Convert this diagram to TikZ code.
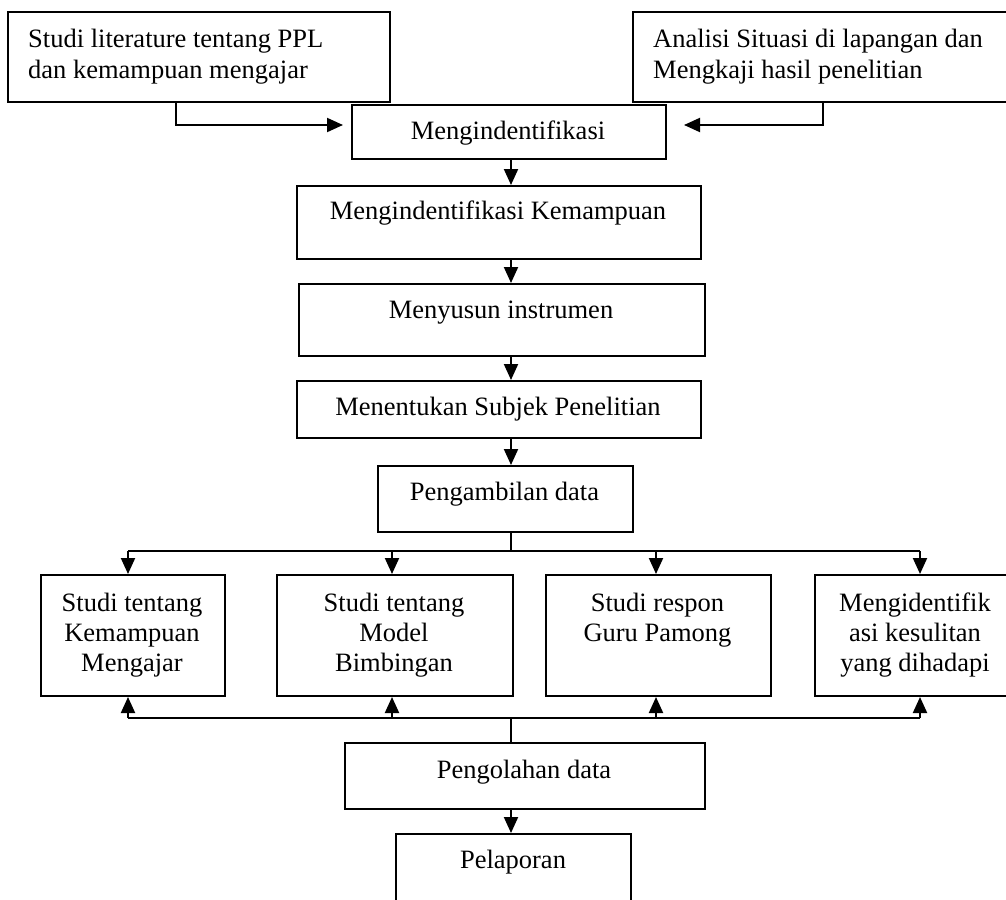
\documentclass[tikz,border=0pt]{standalone}
\usepackage{fontspec}
\setmainfont{Liberation Serif}
\usetikzlibrary{arrows.meta}
\begin{document}
\begin{tikzpicture}[x=1pt,y=-1pt,
  box/.style={draw, line width=2pt, rectangle, inner sep=0pt, anchor=north west},
  txt/.style={inner sep=0pt, anchor=base, font=\fontsize{26.5}{30}\selectfont},
  ltxt/.style={inner sep=0pt, anchor=base west, font=\fontsize{26.5}{30}\selectfont},
  arr/.style={line width=2pt, -{Triangle[length=16pt,width=14pt]}},
  ln/.style={line width=2pt}]
\useasboundingbox (0,0) rectangle (1006,899);
\clip (0,0) rectangle (1006,899);
% boxes
\node[box, minimum width=382, minimum height=90] (A) at (7,11) {};
\node[box, minimum width=383, minimum height=90] (B) at (632,11) {};
\node[box, minimum width=314, minimum height=54] (M) at (351,104) {};
\node[box, minimum width=404, minimum height=73] (MK) at (296,185) {};
\node[box, minimum width=406, minimum height=72] (MS) at (298,283) {};
\node[box, minimum width=404, minimum height=57] (MT) at (296,380) {};
\node[box, minimum width=255, minimum height=66] (PD) at (377,465) {};
\node[box, minimum width=184, minimum height=121] (S1) at (40,574) {};
\node[box, minimum width=236, minimum height=121] (S2) at (276,574) {};
\node[box, minimum width=225, minimum height=121] (S3) at (545,574) {};
\node[box, minimum width=201, minimum height=121] (S4) at (814,574) {};
\node[box, minimum width=360, minimum height=66] (PO) at (344,742) {};
\node[box, minimum width=235, minimum height=80] (PL) at (395,833) {};
% texts
\node[ltxt] (tA1) at (28,48) {Studi literature tentang PPL};
\node[ltxt] (tA2) at (28,78) {dan kemampuan mengajar};
\node[ltxt] (tB1) at (653,48) {Analisi Situasi di lapangan dan};
\node[ltxt] (tB2) at (653,78) {Mengkaji hasil penelitian};
\node[txt] (tM) at (508,139) {Mengindentifikasi};
\node[txt] (tMK) at (498,219) {Mengindentifikasi Kemampuan};
\node[txt] (tMS) at (501,318) {Menyusun instrumen};
\node[txt] (tMT) at (498,415) {Menentukan Subjek Penelitian};
\node[txt] (tPD) at (504.5,500) {Pengambilan data};
\node[txt] (tS1a) at (132,611) {Studi tentang};
\node[txt] (tS1b) at (132,641) {Kemampuan};
\node[txt] (tS1c) at (132,671) {Mengajar};
\node[txt] (tS2a) at (394,611) {Studi tentang};
\node[txt] (tS2b) at (394,641) {Model};
\node[txt] (tS2c) at (394,671) {Bimbingan};
\node[txt] (tS3a) at (657.5,611) {Studi respon};
\node[txt] (tS3b) at (657.5,641) {Guru Pamong};
\node[txt] (tS4a) at (915,611) {Mengidentifik};
\node[txt] (tS4b) at (915,641) {asi kesulitan};
\node[txt] (tS4c) at (915,671) {yang dihadapi};
\node[txt] (tPO) at (524,778) {Pengolahan data};
\node[txt] (tPL) at (513,868) {Pelaporan};
% connector coordinates
\coordinate (a1) at (176,125);
\coordinate (b1) at (823,125);
\coordinate (cx) at (511,0);
\coordinate (bus1) at (511,551);
\coordinate (bus2) at (511,718);
\coordinate (k1) at (128,0);
\coordinate (k2) at (392,0);
\coordinate (k3) at (656,0);
\coordinate (k4) at (920,0);
% top arrows
\draw[arr] (A.south -| a1) -- (a1) -- ([xshift=-8pt]M.west |- a1);
\draw[arr] (B.south -| b1) -- (b1) -- ([xshift=17pt]M.east |- b1);
\draw[arr] (M.south -| cx) -- (MK.north -| cx);
\draw[arr] (MK.south -| cx) -- (MS.north -| cx);
\draw[arr] (MS.south -| cx) -- (MT.north -| cx);
\draw[arr] (MT.south -| cx) -- (PD.north -| cx);
% distribution bus
\draw[ln] (PD.south -| cx) -- (bus1);
\draw[ln] (bus1 -| k1) -- (bus1 -| k4);
\draw[arr] (bus1 -| k1) -- (S1.north -| k1);
\draw[arr] (bus1 -| k2) -- (S2.north -| k2);
\draw[arr] (bus1 -| k3) -- (S3.north -| k3);
\draw[arr] (bus1 -| k4) -- (S4.north -| k4);
% collection bus
\draw[ln] (bus2 -| k1) -- (bus2 -| k4);
\draw[arr] (bus2 -| k1) -- (S1.south -| k1);
\draw[arr] (bus2 -| k2) -- (S2.south -| k2);
\draw[arr] (bus2 -| k3) -- (S3.south -| k3);
\draw[arr] (bus2 -| k4) -- (S4.south -| k4);
\draw[ln] (bus2) -- (PO.north -| cx);
\draw[arr] (PO.south -| cx) -- (PL.north -| cx);
\end{tikzpicture}
\end{document}
